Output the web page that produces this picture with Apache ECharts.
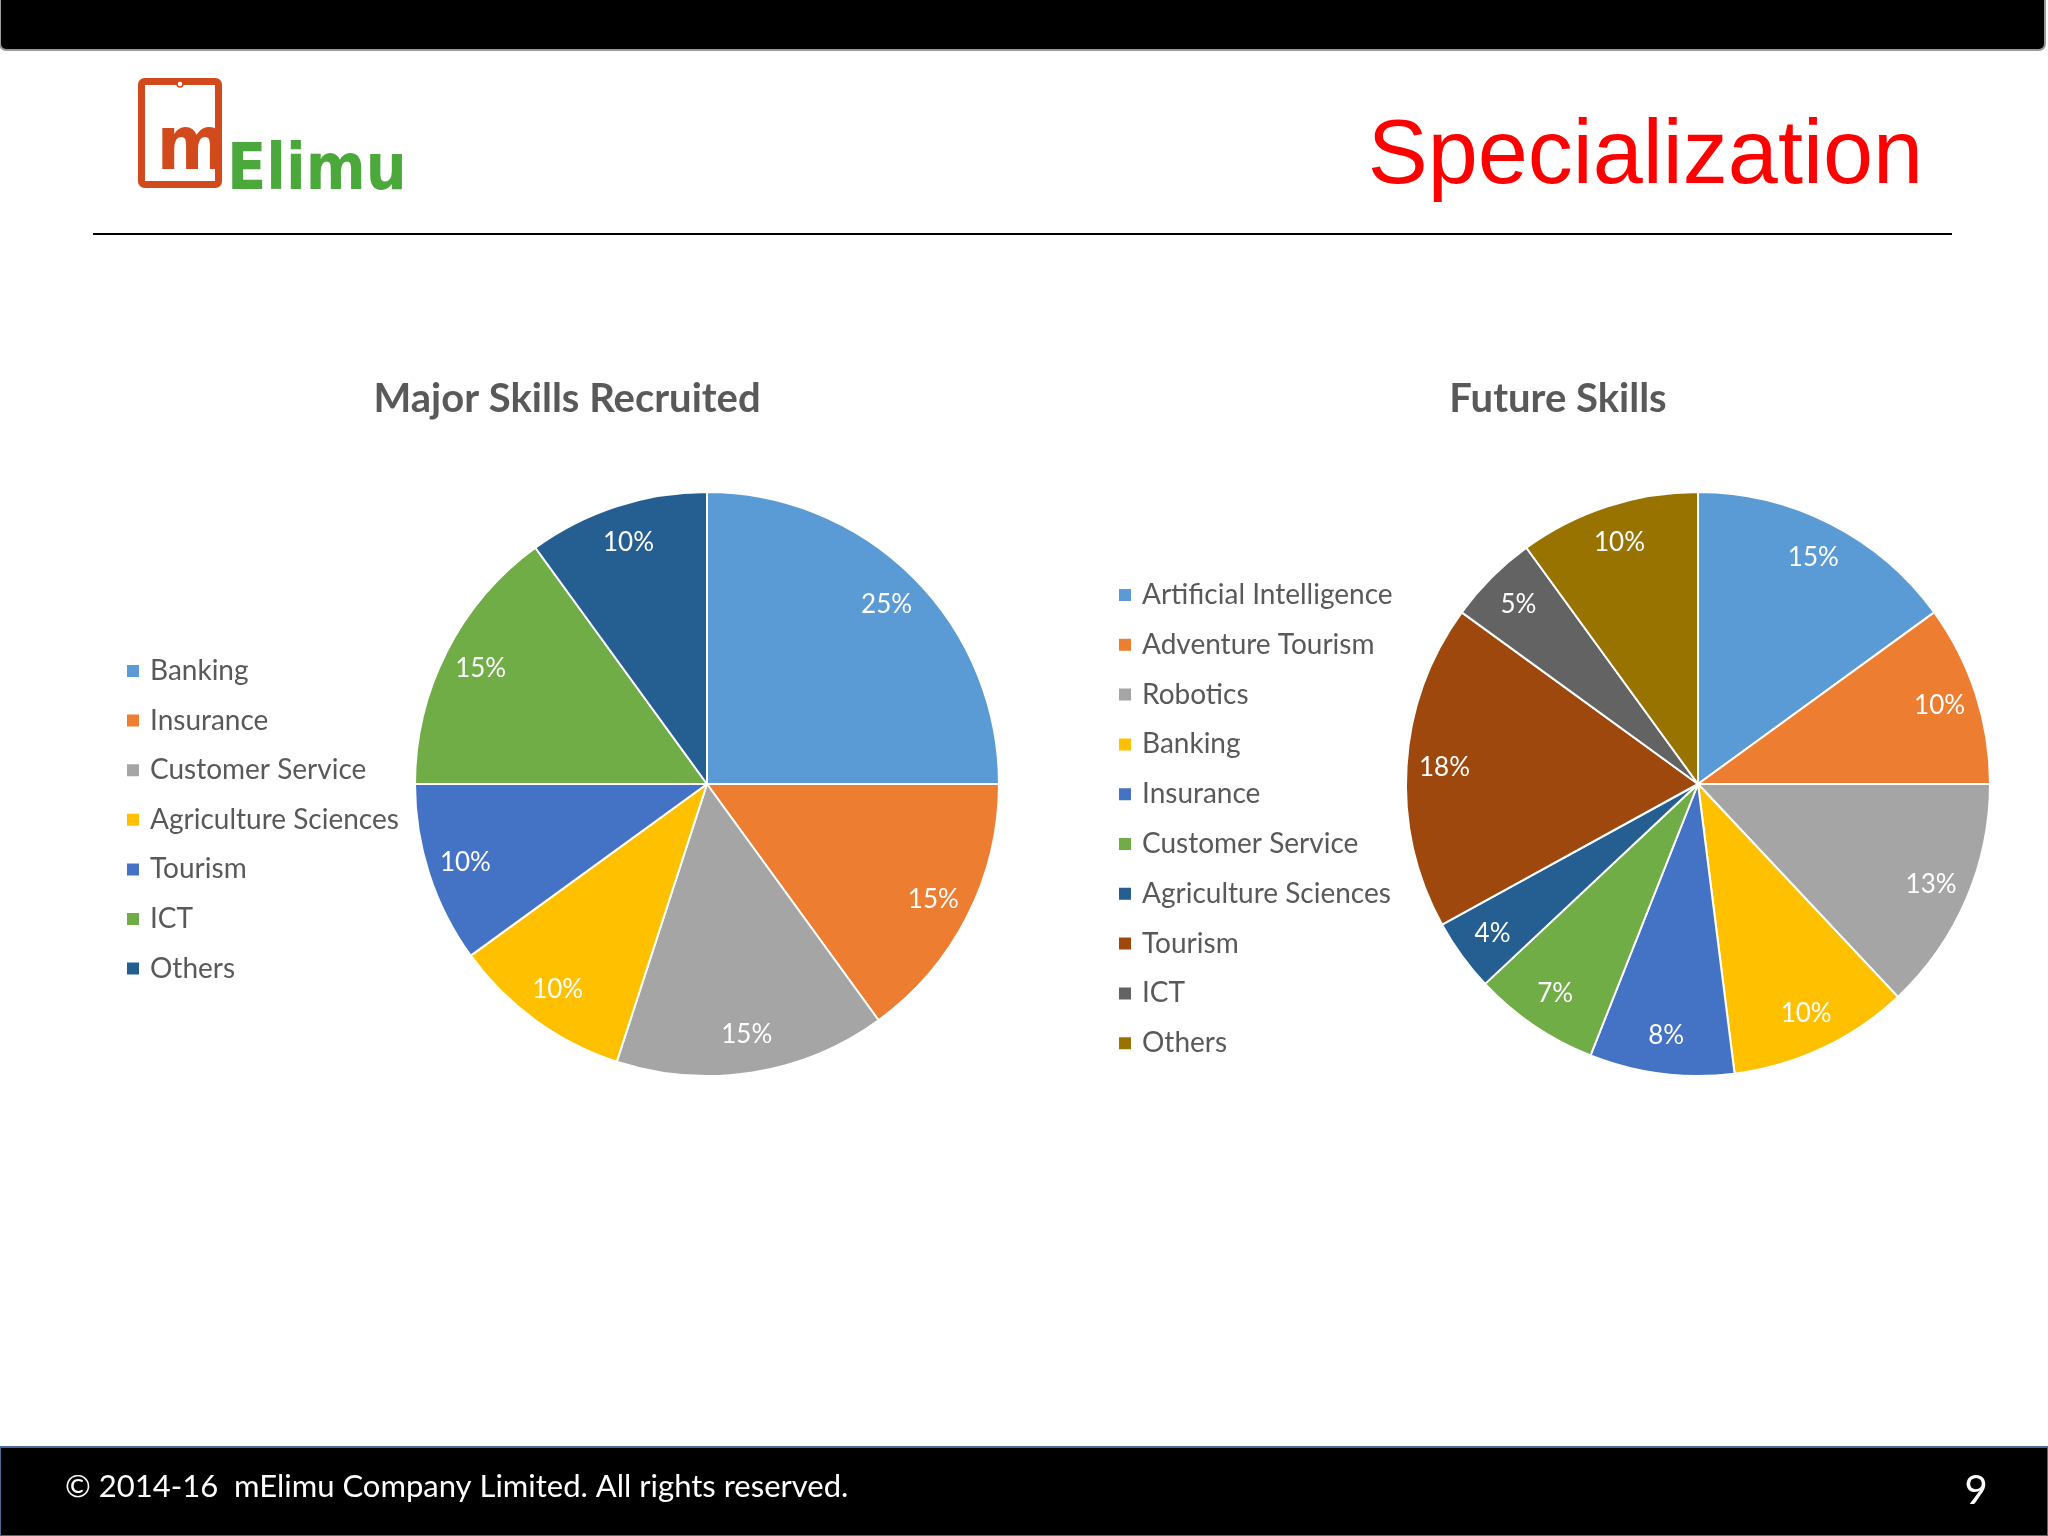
<!DOCTYPE html>
<html>
<head>
<meta charset="utf-8">
<script src="https://cdn.jsdelivr.net/npm/echarts@6/dist/echarts.min.js"></script>
<style>
html,body{margin:0;padding:0;background:#fff;}
#chart{width:2048px;height:1536px;}
</style>
</head>
<body>
<div id="chart"></div>
<script>
// ---- data ----
const leftTitle = 'Major Skills Recruited';
const leftCategories = ['Banking', 'Insurance', 'Customer Service', 'Agriculture Sciences', 'Tourism', 'ICT', 'Others'];
const leftValues = [25, 15, 15, 10, 10, 15, 10];
const leftColors = ['#5B9BD5', '#ED7D31', '#A5A5A5', '#FFC000', '#4472C4', '#70AD47', '#255E91'];

const rightTitle = 'Future Skills';
const rightCategories = ['Artificial Intelligence', 'Adventure Tourism', 'Robotics', 'Banking', 'Insurance', 'Customer Service', 'Agriculture Sciences', 'Tourism', 'ICT', 'Others'];
const rightValues = [15, 10, 13, 10, 8, 7, 4, 18, 5, 10];
const rightColors = ['#5B9BD5', '#ED7D31', '#A5A5A5', '#FFC000', '#4472C4', '#70AD47', '#255E91', '#9E480E', '#636363', '#997300'];

const pageTitle = 'Specialization';
const footerText = '\u00A9 2014-16  mElimu Company Limited. All rights reserved.';
const pageNumber = '9';

// ---- build ----
const FONT = 'Lato, "Open Sans", sans-serif';
function pieData(cats, vals, cols) {
  return cats.map((c, i) => ({ name: c, value: vals[i], itemStyle: { color: cols[i] } }));
}
function legendData(cats, cols) {
  return cats.map((c, i) => ({ name: c, itemStyle: { color: cols[i] } }));
}
function mainPie(center, cats, vals, cols) {
  return {
    type: 'pie', center: center, radius: [0, 292], startAngle: 90, clockwise: true,
    avoidLabelOverlap: false, silent: true,
    itemStyle: { borderColor: '#ffffff', borderWidth: 2 },
    label: { show: false }, labelLine: { show: false },
    emphasis: { disabled: true },
    data: pieData(cats, vals, cols)
  };
}
function labelPie(center, cats, vals) {
  return {
    type: 'pie', center: center, radius: [210, 292], startAngle: 90, clockwise: true,
    avoidLabelOverlap: false, silent: true,
    itemStyle: { color: 'rgba(0,0,0,0)', borderWidth: 0 },
    label: { show: true, position: 'inside', formatter: '{c}%', color: '#ffffff', fontSize: 26, fontFamily: FONT },
    labelLine: { show: false },
    emphasis: { disabled: true },
    data: cats.map((c, i) => ({ name: c, value: vals[i] }))
  };
}
const legendCommon = {
  orient: 'vertical', icon: 'rect', itemWidth: 14, itemHeight: 14, padding: 0,
  selectedMode: false,
  textStyle: { color: '#595959', fontSize: 28, fontFamily: FONT, lineHeight: 30, padding: [0, 0, 0, 5] }
};

const chart = echarts.init(document.getElementById('chart'), null, { renderer: 'canvas' });
chart.setOption({
  backgroundColor: '#ffffff',
  animation: false,
  legend: [
    Object.assign({}, legendCommon, { left: 125, top: 656, itemGap: 19.6, data: legendData(leftCategories, leftColors) }),
    Object.assign({}, legendCommon, { left: 1117, top: 580, itemGap: 19.8, data: legendData(rightCategories, rightColors) })
  ],
  series: [
    mainPie([707, 784], leftCategories, leftValues, leftColors),
    mainPie([1698, 784], rightCategories, rightValues, rightColors),
    labelPie([707, 784], leftCategories, leftValues),
    labelPie([1698, 784], rightCategories, rightValues)
  ],
  graphic: [
    // top bar
    { type: 'rect', shape: { x: 0, y: -10, width: 2045, height: 60, r: 6 }, style: { fill: '#000000', stroke: '#9a9a9a', lineWidth: 2 }, z: 10 },
    // header rule
    { type: 'line', shape: { x1: 93, y1: 234, x2: 1952, y2: 234 }, style: { stroke: '#000000', lineWidth: 2 }, z: 10 },
    // logo
    { type: 'rect', shape: { x: 141.5, y: 81.5, width: 77, height: 103, r: 3 }, style: { fill: 'none', stroke: '#D2491C', lineWidth: 7 }, z: 10 },
    { type: 'circle', shape: { cx: 180, cy: 84, r: 3 }, style: { fill: '#ffffff', stroke: '#D2491C', lineWidth: 1.5 }, z: 11 },
    { type: 'text', style: { text: 'm', x: 192, y: 187, align: 'center', verticalAlign: 'bottom', fill: '#D2491C', font: 'bold 75px "DejaVu Sans Condensed", sans-serif' }, z: 11 },
    { type: 'text', style: { text: 'Elimu', x: 227, y: 204, align: 'left', verticalAlign: 'bottom', fill: '#4BA83A', font: 'bold 64px "DejaVu Sans Condensed", sans-serif' }, z: 11 },
    // page title
    { type: 'text', style: { text: pageTitle, x: 1923, y: 113, align: 'right', verticalAlign: 'top', fill: '#FF0000', font: '90px "Liberation Sans", Arial, sans-serif' }, z: 10 },
    // chart titles
    { type: 'text', style: { text: leftTitle, x: 567, y: 399, align: 'center', verticalAlign: 'middle', fill: '#595959', font: 'bold 40px ' + FONT }, z: 10 },
    { type: 'text', style: { text: rightTitle, x: 1558, y: 399, align: 'center', verticalAlign: 'middle', fill: '#595959', font: 'bold 40px ' + FONT }, z: 10 },
    // footer
    { type: 'rect', shape: { x: 0, y: 1447, width: 2048, height: 89 }, style: { fill: '#000000', stroke: '#4A6A90', lineWidth: 2 }, z: 10 },
    { type: 'text', style: { text: footerText, x: 65, y: 1487, align: 'left', verticalAlign: 'middle', fill: '#ffffff', font: '31px ' + FONT }, z: 11 },
    { type: 'text', style: { text: pageNumber, x: 1976, y: 1491, align: 'center', verticalAlign: 'middle', fill: '#ffffff', font: '40px ' + FONT }, z: 11 }
  ]
});
</script>
</body>
</html>
